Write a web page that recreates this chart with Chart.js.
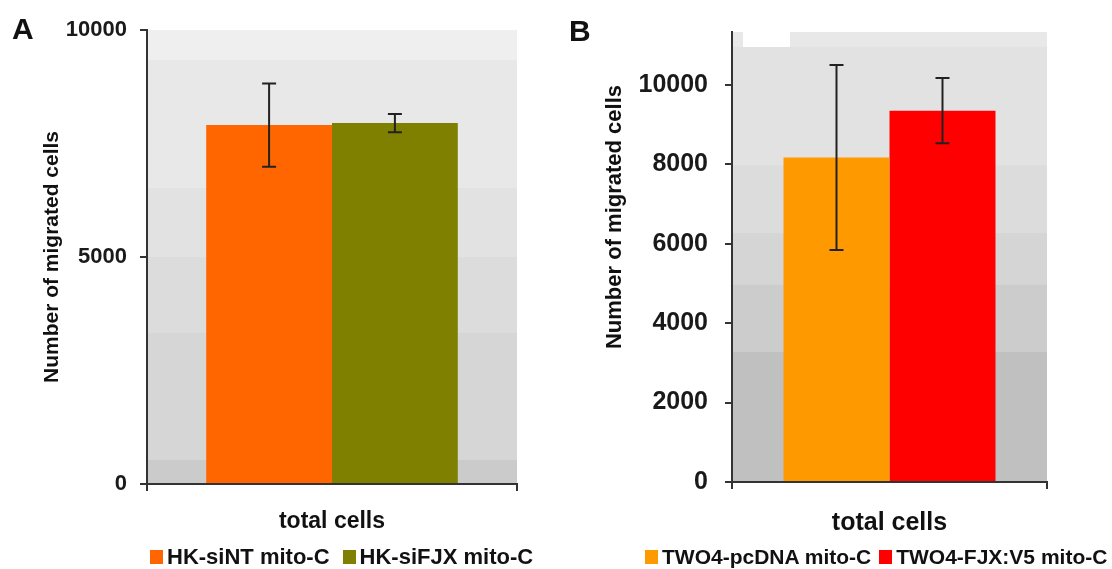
<!DOCTYPE html>
<html>
<head>
<meta charset="utf-8">
<script src="https://cdn.jsdelivr.net/npm/chart.js@4.4.1/dist/chart.umd.min.js"></script>
<style>
    html, body { margin: 0; padding: 0; background: #fff; }
    body { width: 1112px; height: 569px; position: relative; overflow: hidden;
           font-family: "Liberation Sans", Arial, sans-serif; color: #111; }
    .panel { position: absolute; top: 0; width: 556px; height: 569px; }
    .letter { position: absolute; font-weight: bold; font-size: 30px; line-height: 30px; }
    .legend { position: absolute; display: flex; align-items: center; white-space: nowrap; font-weight: bold; }
    .legend .item { display: flex; align-items: center; }
    .legend .box { display: inline-block; width: 13px; height: 14px; margin-right: 4px; }
</style>
</head>
<body>
<div class="panel" style="left:0"><canvas id="chartA" width="556" height="569"></canvas></div>
<div class="panel" style="left:556px"><canvas id="chartB" width="556" height="569"></canvas></div>
<div class="letter" style="left:12px; top:14px">A</div>
<div class="letter" style="left:569px; top:16px">B</div>
<div class="legend" id="legendA" style="left:150px; top:546px; font-size:22px; line-height:22px"></div>
<div class="legend" id="legendB" style="left:645px; top:546px; font-size:21px; line-height:21px"></div>
<script>
// Panel A
const categoryA = ['total cells']
const seriesA = ['HK-siNT mito-C', 'HK-siFJX mito-C']
const valuesA = [7905, 7950]
const errorsA = [915, 200]
const colorsA = ['#ff6600', '#808000']
const ticksA = [0, 5000, 10000]

// Panel B
const categoryB = ['total cells']
const seriesB = ['TWO4-pcDNA mito-C', 'TWO4-FJX:V5 mito-C']
const valuesB = [8170, 9350]
const errorsB = [2330, 820]
const colorsB = ['#ff9900', '#ff0000']
const ticksB = [0, 2000, 4000, 6000, 8000, 10000]

const yTitle = 'Number of migrated cells'
const FONT = '"Liberation Sans", Arial, sans-serif'

// Stepped grey background behind the bars (Excel style gradient)
const bandsPlugin = {
    id: 'bands',
    beforeDraw(chart, args, opts) {
        const {ctx, chartArea: a} = chart
        const h = a.bottom - a.top
        ctx.save()
        opts.bands.forEach(([from, to, color]) => {
            ctx.fillStyle = color
            ctx.fillRect(a.left, a.top + from * h, a.right - a.left, (to - from) * h + 1)
        })
        if (opts.hole) {
            ctx.fillStyle = '#ffffff'
            ctx.fillRect(a.left + opts.hole[0], a.top + opts.hole[1], opts.hole[2], opts.hole[3])
        }
        ctx.restore()
    }
}

// Error bars, read from each dataset's "error" list
const errorBarsPlugin = {
    id: 'errorBars',
    afterDatasetsDraw(chart) {
        const {ctx, scales: {y}} = chart
        ctx.save()
        ctx.strokeStyle = '#222'
        ctx.lineWidth = 2
        chart.data.datasets.forEach((ds, i) => {
            chart.getDatasetMeta(i).data.forEach((bar, j) => {
                const hi = y.getPixelForValue(ds.data[j] + ds.error[j])
                const lo = y.getPixelForValue(ds.data[j] - ds.error[j])
                const cap = 7
                ctx.beginPath()
                ctx.moveTo(bar.x, hi); ctx.lineTo(bar.x, lo)
                ctx.moveTo(bar.x - cap, hi); ctx.lineTo(bar.x + cap, hi)
                ctx.moveTo(bar.x - cap, lo); ctx.lineTo(bar.x + cap, lo)
                ctx.stroke()
            })
        })
        ctx.restore()
    }
}

// Rotated y title; the original sits off the axis centre in panel B
const sideTitlePlugin = {
    id: 'sideTitle',
    afterDraw(chart, args, opts) {
        const {ctx, chartArea: a} = chart
        ctx.save()
        ctx.translate(opts.x, (a.top + a.bottom) / 2 + opts.shift)
        ctx.rotate(-Math.PI / 2)
        ctx.font = `bold ${opts.size}px ${FONT}`
        ctx.fillStyle = '#111'
        ctx.textAlign = 'center'
        ctx.textBaseline = 'middle'
        ctx.fillText(opts.text, 0, 0)
        ctx.restore()
    }
}

function makeChart(canvasId, s) {
    return new Chart(document.getElementById(canvasId), {
        type: 'bar',
        data: {
            labels: s.category,
            datasets: s.series.map((label, i) => ({
                label: label,
                data: [s.values[i]],
                error: [s.errors[i]],
                backgroundColor: s.colors[i],
                borderWidth: 0,
                categoryPercentage: s.barShare,
                barPercentage: 1
            }))
        },
        options: {
            responsive: false,
            animation: false,
            events: [],
            layout: {padding: s.padding, autoPadding: false},
            plugins: {
                legend: {display: false},
                tooltip: {enabled: false},
                bands: {bands: s.bands, hole: s.hole},
                sideTitle: {text: yTitle, x: s.titleX, shift: s.titleShift, size: s.titleFont}
            },
            scales: {
                x: {
                    grid: {drawOnChartArea: false, tickLength: 7, color: '#333', lineWidth: 2},
                    border: {color: '#333', width: 2},
                    ticks: {font: {family: FONT, size: s.xFont, weight: 'bold'}, color: '#111', padding: s.xPad},
                    afterFit: scale => { scale.height = s.xHeight }
                },
                y: {
                    min: 0,
                    max: s.yMax,
                    afterBuildTicks: scale => { scale.ticks = s.ticks.map(v => ({value: v})) },
                    grid: {drawOnChartArea: false, tickLength: 7, color: '#333', lineWidth: 2},
                    border: {color: '#333', width: 2},
                    ticks: {
                        font: {family: FONT, size: s.yFont, weight: 'bold'},
                        color: '#1a1a1a',
                        padding: s.yPad,
                        callback: v => String(v)
                    },
                    afterFit: scale => { scale.width = s.yWidth }
                }
            }
        },
        plugins: [bandsPlugin, errorBarsPlugin, sideTitlePlugin]
    })
}

function makeLegend(elId, series, colors, gap) {
    const el = document.getElementById(elId)
    series.forEach((label, i) => {
        const item = document.createElement('span')
        item.className = 'item'
        if (i < series.length - 1) item.style.marginRight = gap + 'px'
        const box = document.createElement('span')
        box.className = 'box'
        box.style.background = colors[i]
        item.appendChild(box)
        item.appendChild(document.createTextNode(label))
        el.appendChild(item)
    })
}

makeChart('chartA', {
    category: categoryA, series: seriesA, values: valuesA, errors: errorsA, colors: colorsA,
    ticks: ticksA, yMax: 10000, barShare: 0.68,
    padding: {top: 30, right: 39, bottom: 0, left: 0},
    yWidth: 147, xHeight: 85, yPad: 13, xPad: 17,
    yFont: 22, xFont: 23, titleFont: 21, titleX: 52, titleShift: 0,
    bands: [[0, 0.066, '#efefef'], [0.066, 0.348, '#e8e8e8'], [0.348, 0.5, '#e2e2e2'],
            [0.5, 0.667, '#dcdcdc'], [0.667, 0.947, '#d6d6d6'], [0.947, 1, '#cbcbcb']]
})

makeChart('chartB', {
    category: categoryB, series: seriesB, values: valuesB, errors: errorsB, colors: colorsB,
    ticks: ticksB, yMax: 11330, barShare: 0.673,
    padding: {top: 32, right: 65, bottom: 0, left: 0},
    yWidth: 176, xHeight: 87, yPad: 17, xPad: 19,
    yFont: 25, xFont: 25, titleFont: 22, titleX: 59, titleShift: -40,
    bands: [[0, 0.033, '#e8e8e8'], [0.033, 0.296, '#e2e2e2'], [0.296, 0.447, '#dcdcdc'],
            [0.447, 0.562, '#d5d5d5'], [0.562, 0.711, '#cccccc'], [0.711, 1, '#c0c0c0']],
    hole: [11, 0, 47, 15]
})

makeLegend('legendA', seriesA, colorsA, 13)
makeLegend('legendB', seriesB, colorsB, 8)
</script>
</body>
</html>
